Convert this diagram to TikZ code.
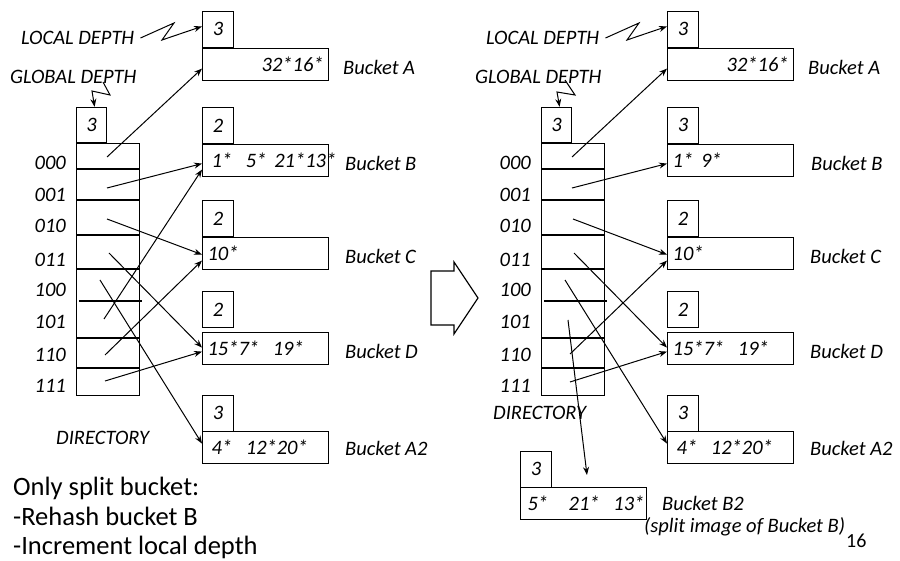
\documentclass[tikz,border=0pt]{standalone}
\usepackage{fontspec}
\setmainfont{Carlito}
\usetikzlibrary{arrows.meta,positioning}

\tikzset{
	bucket/.style={draw, line width=1.2pt, anchor=north west, minimum height=32pt, text width=116pt, inner xsep=5pt, inner ysep=0pt, align=left, font=\fontsize{20.5}{24}\selectfont\itshape},
	depthbox/.style={draw, line width=1.2pt, anchor=south west, minimum width=31pt, minimum height=36pt, inner sep=0pt, font=\fontsize{20.5}{24}\selectfont\itshape},
	lbl/.style={anchor=west, inner sep=0pt, font=\fontsize{20.5}{24}\selectfont\itshape},
	note/.style={anchor=base west, inner sep=0pt, font=\fontsize{26.5}{30}\selectfont},
	ptr/.style={line width=1pt, -{Stealth[length=8pt,width=6pt]}},
	sep/.style={line width=2pt},
}

\begin{document}
\begin{tikzpicture}[x=1pt,y=-1pt]
	\useasboundingbox (0,0) rectangle (900,561);
	
	% before the split
	\node[lbl] (ldL) at (21,38) {LOCAL DEPTH};
	\node[lbl] (gdlL) at (10,77) {GLOBAL DEPTH};
	\node[depthbox, minimum width=30pt, minimum height=35pt] (gdL) at (76,143) {3};
	\node[draw, line width=1.2pt, anchor=north west, minimum width=63pt, minimum height=252pt] (dirL) at (76,143) {};
	\draw[sep] (76,169) -- (139,169);
	\draw[sep] (76,200) -- (139,200);
	\draw[sep] (76,235) -- (139,235);
	\draw[sep] (76,269) -- (139,269);
	\draw[sep] (79,301) -- (142,301);
	\draw[sep] (76,338) -- (139,338);
	\draw[sep] (76,368) -- (139,368);
	\node[lbl, anchor=east] (r000L) at (66,163) {000};
	\node[lbl, anchor=east] (r001L) at (66,195) {001};
	\node[lbl, anchor=east] (r010L) at (66,226) {010};
	\node[lbl, anchor=east] (r011L) at (66,260) {011};
	\node[lbl, anchor=east] (r100L) at (66,290) {100};
	\node[lbl, anchor=east] (r101L) at (66,322) {101};
	\node[lbl, anchor=east] (r110L) at (66,355) {110};
	\node[lbl, anchor=east] (r111L) at (66,386) {111};
	\node[lbl] (dirtL) at (56,438) {DIRECTORY};
	
	\node[bucket, align=right] (bAL) at (202,48) {32*16*\hspace*{-6pt}};
	\node[depthbox] (dAL) at (202,48) {3};
	\node[bucket] (bBL) at (202,144) {\hspace*{4pt}1*~~5*~\hspace{1pt}21*13*};
	\node[depthbox] (dBL) at (202,144) {2};
	\node[bucket] (bCL) at (202,237) {10*};
	\node[depthbox] (dCL) at (202,237) {2};
	\node[bucket] (bDL) at (202,332) {15*7*~~19*};
	\node[depthbox] (dDL) at (202,328) {2};
	\node[bucket] (bEL) at (202,431) {\hspace*{4pt}4*~~12*20*};
	\node[depthbox] (dEL) at (202,432) {3};
	
	\node[lbl] (nAL) at (343,67) {Bucket A};
	\node[lbl] (nBL) at (345,163) {Bucket B};
	\node[lbl] (nCL) at (345,256) {Bucket C};
	\node[lbl] (nDL) at (345,351) {Bucket D};
	\node[lbl] (nEL) at (345,448) {Bucket A2};
	
	\draw[ptr] ([xshift=6pt]ldL.east) -- (174,23) -- (162,40) -- ([yshift=3pt]dAL.west);
	\draw[ptr] (103,82) -- (110,95) -- (92,91) -- ([xshift=3pt]gdL.north);
	
	\coordinate (p000L) at (107,157);
	\coordinate (p001L) at (107,188);
	\coordinate (p010L) at (107,219);
	\coordinate (p011L) at (109,253);
	\coordinate (p100L) at (100,280);
	\coordinate (p101L) at (104,319);
	\coordinate (p110L) at (105,355);
	\coordinate (p111L) at (105,381);
	\draw[ptr] (p000L) -- ([yshift=-4pt]bAL.west);
	\draw[ptr] (p001L) -- ([yshift=-3pt]bBL.west);
	\draw[ptr] (p010L) -- ([yshift=-1pt]bCL.west);
	\draw[ptr] (p011L) -- ([yshift=1pt]bDL.west);
	\draw[ptr] (p100L) -- ([yshift=4pt]bEL.west);
	\draw[ptr] (p101L) -- ([yshift=-9pt]bBL.west);
	\draw[ptr] (p110L) -- ([yshift=-7pt]bCL.west);
	\draw[ptr] (p111L) -- ([yshift=-3pt]bDL.west);
	
	\node[note] (o1) at (13,495) {Only split bucket:};
	\node[note] (o2) at (13,525) {-Rehash bucket B};
	\node[note] (o3) at (13,554) {-Increment local depth};
	
	% big arrow
	\draw[line width=1.2pt] (431,271) -- (454,271) -- (454,262) -- (478,298) -- (454,334) -- (454,325) -- (431,325) -- cycle;
	
	% after the split
	\node[lbl] (ldR) at (486,38) {LOCAL DEPTH};
	\node[lbl] (gdlR) at (475,77) {GLOBAL DEPTH};
	\node[depthbox, minimum width=30pt, minimum height=35pt] (gdR) at (541,143) {3};
	\node[draw, line width=1.2pt, anchor=north west, minimum width=63pt, minimum height=252pt] (dirR) at (541,143) {};
	\draw[sep] (541,169) -- (604,169);
	\draw[sep] (541,200) -- (604,200);
	\draw[sep] (541,235) -- (604,235);
	\draw[sep] (541,269) -- (604,269);
	\draw[sep] (544,301) -- (607,301);
	\draw[sep] (541,338) -- (604,338);
	\draw[sep] (541,368) -- (604,368);
	\node[lbl, anchor=east] (r000R) at (531,163) {000};
	\node[lbl, anchor=east] (r001R) at (531,195) {001};
	\node[lbl, anchor=east] (r010R) at (531,226) {010};
	\node[lbl, anchor=east] (r011R) at (531,260) {011};
	\node[lbl, anchor=east] (r100R) at (531,290) {100};
	\node[lbl, anchor=east] (r101R) at (531,322) {101};
	\node[lbl, anchor=east] (r110R) at (531,355) {110};
	\node[lbl, anchor=east] (r111R) at (531,386) {111};
	\node[lbl] (dirtR) at (493,413) {DIRECTORY};
	
	\node[bucket, align=right] (bAR) at (667,48) {32*16*\hspace*{-6pt}};
	\node[depthbox] (dAR) at (667,48) {3};
	\node[bucket] (bBR) at (667,144) {1*~\hspace{1pt}9*};
	\node[depthbox] (dBR) at (667,144) {3};
	\node[bucket] (bCR) at (667,237) {10*};
	\node[depthbox] (dCR) at (667,237) {2};
	\node[bucket] (bDR) at (667,332) {15*7*~~19*};
	\node[depthbox] (dDR) at (667,328) {2};
	\node[bucket] (bER) at (667,431) {\hspace*{4pt}4*~~12*20*};
	\node[depthbox] (dER) at (667,432) {3};
	\node[bucket] (bFR) at (520,487) {\hspace*{2pt}5*~~~21*~~13*};
	\node[depthbox] (dFR) at (520,488) {3};
	
	\node[lbl] (nAR) at (808,67) {Bucket A};
	\node[lbl] (nBR) at (811,163) {Bucket B};
	\node[lbl] (nCR) at (810,256) {Bucket C};
	\node[lbl] (nDR) at (810,351) {Bucket D};
	\node[lbl] (nER) at (810,448) {Bucket A2};
	\node[lbl] (nFR) at (662,503) {Bucket B2};
	\node[lbl] (sFR) at (644,527) {(split image of Bucket B)};
	\node[anchor=west, inner sep=0pt, font=\fontsize{20}{24}\selectfont] (pg) at (846,541) {16};
	
	\draw[ptr] ([xshift=6pt]ldR.east) -- (639,23) -- (627,40) -- ([yshift=3pt]dAR.west);
	\draw[ptr] (565,80) -- (575,95) -- (557,92) -- ([xshift=3pt]gdR.north);
	
	\coordinate (p000R) at (572,157);
	\coordinate (p001R) at (572,188);
	\coordinate (p010R) at (573,219);
	\coordinate (p011R) at (574,253);
	\coordinate (p100R) at (565,280);
	\coordinate (p101R) at (568,320);
	\coordinate (p110R) at (570,354);
	\coordinate (p111R) at (570,382);
	\coordinate (tFR) at (587,475);
	\draw[ptr] (p000R) -- ([yshift=-4pt]bAR.west);
	\draw[ptr] (p001R) -- ([yshift=-3pt]bBR.west);
	\draw[ptr] (p010R) -- ([yshift=-1pt]bCR.west);
	\draw[ptr] (p011R) -- ([yshift=1pt]bDR.west);
	\draw[ptr] (p100R) -- ([yshift=4pt]bER.west);
	\draw[ptr] (p101R) -- (tFR);
	\draw[ptr] (p110R) -- ([yshift=-7pt]bCR.west);
	\draw[ptr] (p111R) -- ([yshift=-3pt]bDR.west);
	
\end{tikzpicture}
\end{document}
